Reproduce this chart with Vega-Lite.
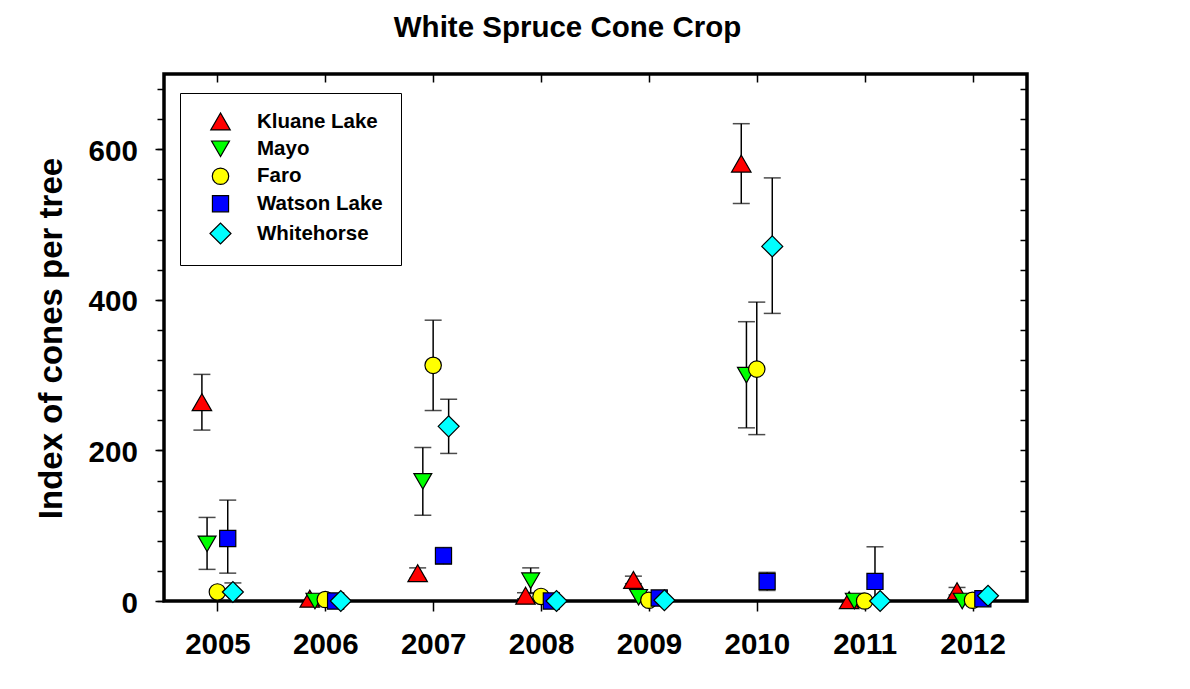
{
  "$schema": "https://vega.github.io/schema/vega-lite/v6.json",
  "autosize": "none",
  "width": 863,
  "height": 527,
  "padding": {"left": 164, "top": 74, "right": 163, "bottom": 88},
  "background": "white",
  "title": {
    "text": "White Spruce Cone Crop",
    "font": "Liberation Sans",
    "fontSize": 29.5,
    "fontWeight": "bold",
    "color": "black",
    "anchor": "middle",
    "frame": "group",
    "baseline": "alphabetic",
    "offset": 6.5,
    "dx": -28
  },
  "config": {
    "font": "Liberation Sans",
    "view": {"stroke": "black", "strokeWidth": 3.5},
    "axis": {
      "domain": false,
      "grid": false,
      "tickColor": "black",
      "tickWidth": 1.5,
      "labelFont": "Liberation Sans",
      "labelFontWeight": "bold",
      "labelFontSize": 29.5,
      "labelColor": "black",
      "titleColor": "black"
    }
  },
  "data": {
    "values": [
      {"year": 2005, "site": "Kluane Lake", "value": 264, "low": 227, "high": 301},
      {"year": 2006, "site": "Kluane Lake", "value": 3, "low": null, "high": null},
      {"year": 2007, "site": "Kluane Lake", "value": 37, "low": 30, "high": 44},
      {"year": 2008, "site": "Kluane Lake", "value": 7, "low": 3, "high": 11},
      {"year": 2009, "site": "Kluane Lake", "value": 28, "low": 23, "high": 33},
      {"year": 2010, "site": "Kluane Lake", "value": 581, "low": 528, "high": 634},
      {"year": 2011, "site": "Kluane Lake", "value": 1, "low": null, "high": null},
      {"year": 2012, "site": "Kluane Lake", "value": 13, "low": 8, "high": 18},
      {"year": 2005, "site": "Mayo", "value": 76, "low": 42, "high": 111},
      {"year": 2006, "site": "Mayo", "value": 0, "low": null, "high": null},
      {"year": 2007, "site": "Mayo", "value": 159, "low": 114, "high": 204},
      {"year": 2008, "site": "Mayo", "value": 27, "low": 10, "high": 44},
      {"year": 2009, "site": "Mayo", "value": 5, "low": null, "high": null},
      {"year": 2010, "site": "Mayo", "value": 300, "low": 230, "high": 371},
      {"year": 2011, "site": "Mayo", "value": 0, "low": null, "high": null},
      {"year": 2012, "site": "Mayo", "value": 0, "low": null, "high": null},
      {"year": 2005, "site": "Faro", "value": 12, "low": null, "high": null},
      {"year": 2006, "site": "Faro", "value": 2, "low": null, "high": null},
      {"year": 2007, "site": "Faro", "value": 313, "low": 253, "high": 373},
      {"year": 2008, "site": "Faro", "value": 6, "low": null, "high": null},
      {"year": 2009, "site": "Faro", "value": 1, "low": null, "high": null},
      {"year": 2010, "site": "Faro", "value": 308, "low": 221, "high": 397},
      {"year": 2011, "site": "Faro", "value": 0, "low": null, "high": null},
      {"year": 2012, "site": "Faro", "value": 1, "low": null, "high": null},
      {"year": 2005, "site": "Watson Lake", "value": 83, "low": 37, "high": 134},
      {"year": 2006, "site": "Watson Lake", "value": 0, "low": null, "high": null},
      {"year": 2007, "site": "Watson Lake", "value": 60, "low": 49, "high": 71},
      {"year": 2008, "site": "Watson Lake", "value": 0, "low": null, "high": null},
      {"year": 2009, "site": "Watson Lake", "value": 4, "low": null, "high": null},
      {"year": 2010, "site": "Watson Lake", "value": 26, "low": 14, "high": 38},
      {"year": 2011, "site": "Watson Lake", "value": 26, "low": -20, "high": 72},
      {"year": 2012, "site": "Watson Lake", "value": 3, "low": null, "high": null},
      {"year": 2005, "site": "Whitehorse", "value": 12, "low": 0, "high": 24},
      {"year": 2006, "site": "Whitehorse", "value": 0, "low": null, "high": null},
      {"year": 2007, "site": "Whitehorse", "value": 232, "low": 196, "high": 268},
      {"year": 2008, "site": "Whitehorse", "value": 0, "low": null, "high": null},
      {"year": 2009, "site": "Whitehorse", "value": 1, "low": null, "high": null},
      {"year": 2010, "site": "Whitehorse", "value": 471, "low": 382, "high": 562},
      {"year": 2011, "site": "Whitehorse", "value": 0, "low": null, "high": null},
      {"year": 2012, "site": "Whitehorse", "value": 7, "low": null, "high": null}
    ]
  },
  "resolve": {"axis": {"x": "independent", "y": "independent"}},
  "layer": [
    {
      "mark": {"type": "rule", "color": "black", "strokeWidth": 1.5, "clip": true},
      "encoding": {
        "x": {"field": "year", "type": "ordinal", "scale": {"paddingInner": 0, "paddingOuter": 0},
          "axis": {"orient": "bottom", "title": null, "labelAngle": 0, "tickSize": 10, "labelPadding": 19}},
        "xOffset": {"field": "site", "type": "nominal",
          "scale": {"type": "point", "padding": 0,
            "domain": ["Kluane Lake", "Mayo", "gap1", "Faro", "gap2", "Watson Lake", "Whitehorse"],
            "range": [37.9, 68.9]}},
        "y": {"field": "low", "type": "quantitative",
          "scale": {"domain": [0, 700], "nice": false, "zero": true},
          "axis": {"orient": "left", "title": null, "labels": false, "tickSize": 7,
            "values": [0, 40, 80, 120, 160, 200, 240, 280, 320, 360, 400, 440, 480, 520, 560, 600, 640, 680]}},
        "y2": {"field": "high"}
      }
    },
    {
      "mark": {"type": "tick", "color": "black", "thickness": 1.5, "size": 17, "clip": true},
      "encoding": {
        "x": {"field": "year", "type": "ordinal",
          "axis": {"orient": "top", "title": null, "labels": false, "tickSize": 8, "offset": -8}},
        "xOffset": {"field": "site", "type": "nominal"},
        "y": {"field": "high", "type": "quantitative",
          "axis": {"orient": "left", "values": [0, 200, 400, 600], "tickSize": 9, "labelPadding": 17.7, "labelOffset": 2,
            "title": "Index of cones per tree", "titleFont": "Liberation Sans", "titleFontSize": 33, "titleFontWeight": "bold",
            "titleAngle": -90, "titleBaseline": "alphabetic", "titleAlign": "center", "titleX": -103, "titleY": 264}}
      }
    },
    {
      "mark": {"type": "tick", "color": "black", "thickness": 1.5, "size": 17, "clip": true},
      "encoding": {
        "x": {"field": "year", "type": "ordinal", "axis": null},
        "xOffset": {"field": "site", "type": "nominal"},
        "y": {"field": "low", "type": "quantitative",
          "axis": {"orient": "right", "title": null, "labels": false, "tickSize": 7, "offset": -7,
            "values": [0, 40, 80, 120, 160, 200, 240, 280, 320, 360, 400, 440, 480, 520, 560, 600, 640, 680]}}
      }
    },
    {
      "mark": {"type": "point", "filled": true, "opacity": 1, "stroke": "black", "strokeWidth": 1.2},
      "encoding": {
        "x": {"field": "year", "type": "ordinal", "axis": null},
        "xOffset": {"field": "site", "type": "nominal"},
        "y": {"field": "value", "type": "quantitative", "axis": null},
        "color": {"field": "site", "type": "nominal",
          "scale": {"domain": ["Kluane Lake", "Mayo", "Faro", "Watson Lake", "Whitehorse"],
            "range": ["#ff0000", "#00ff00", "#ffff00", "#0000ff", "#00ffff"]},
          "legend": {"title": null, "orient": "none", "legendX": 16, "legendY": 19, "padding": 18,
            "strokeColor": "black", "fillColor": "white",
            "labelFont": "Liberation Sans", "labelFontWeight": "bold", "labelFontSize": 20.5, "labelColor": "black",
            "symbolStrokeColor": "black", "symbolStrokeWidth": 1.2, "symbolOpacity": 1,
            "symbolOffset": 11, "labelOffset": 25, "rowPadding": 5.5}},
        "shape": {"field": "site", "type": "nominal",
          "scale": {"domain": ["Kluane Lake", "Mayo", "Faro", "Watson Lake", "Whitehorse"],
            "range": ["triangle-up", "triangle-down", "circle", "square", "diamond"]}},
        "size": {"field": "site", "type": "nominal",
          "scale": {"type": "ordinal", "domain": ["Kluane Lake", "Mayo", "Faro", "Watson Lake", "Whitehorse"],
            "range": [380, 320, 270, 260, 440]}}
      }
    }
  ]
}
